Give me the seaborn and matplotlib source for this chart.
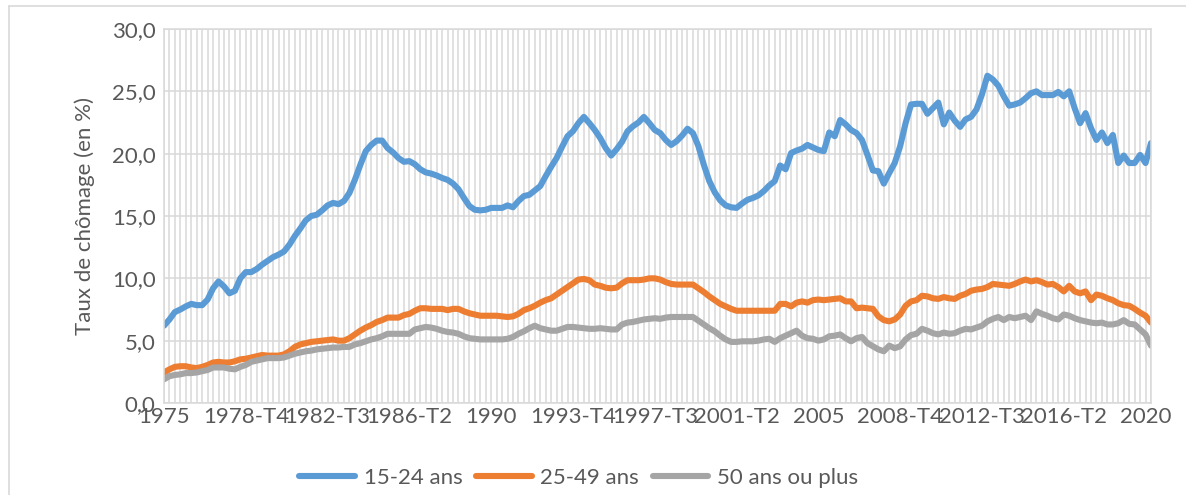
import numpy as np
import pandas as pd
import matplotlib
matplotlib.use("Agg")
import matplotlib.pyplot as plt
from matplotlib.lines import Line2D
from matplotlib.ticker import FuncFormatter
import seaborn as sns

# quarterly series, 1975-T1 .. 2020-T2
jeunes_15_24 = [
    6.2, 6.7, 7.3, 7.5, 7.75, 7.95, 7.85, 7.85, 8.3, 9.2,
    9.75, 9.35, 8.8, 9.0, 10.0, 10.5, 10.5, 10.75, 11.1, 11.4,
    11.7, 11.9, 12.15, 12.7, 13.4, 14.0, 14.65, 15.0, 15.1, 15.45,
    15.85, 16.05, 15.95, 16.2, 16.85, 17.9, 19.1, 20.2, 20.7, 21.05,
    21.05, 20.45, 20.1, 19.65, 19.35, 19.4, 19.15, 18.75, 18.5, 18.4,
    18.25, 18.05, 17.9, 17.6, 17.15, 16.45, 15.8, 15.5, 15.45, 15.5,
    15.65, 15.65, 15.65, 15.85, 15.7, 16.2, 16.6, 16.7, 17.05, 17.4,
    18.2, 18.95, 19.65, 20.55, 21.4, 21.8, 22.45, 22.95, 22.45, 21.9,
    21.25, 20.45, 19.85, 20.35, 20.95, 21.8, 22.2, 22.5, 22.95, 22.45,
    21.9, 21.65, 21.1, 20.7, 21.0, 21.45, 22.0, 21.65, 20.6, 19.1,
    17.8, 16.9, 16.25, 15.85, 15.7, 15.65, 16.0, 16.3, 16.45, 16.65,
    17.0, 17.45, 17.8, 19.05, 18.75, 20.05, 20.25, 20.4, 20.7, 20.5,
    20.3, 20.2, 21.7, 21.4, 22.7, 22.35, 21.9, 21.65, 21.1, 19.9,
    18.65, 18.6, 17.6, 18.45, 19.25, 20.6, 22.45, 23.95, 24.0, 24.0,
    23.2, 23.65, 24.1, 22.35, 23.3, 22.65, 22.15, 22.75, 22.95, 23.55,
    24.75, 26.25, 25.95, 25.45, 24.6, 23.85, 23.95, 24.1, 24.45, 24.85,
    25.0, 24.7, 24.7, 24.7, 24.95, 24.6, 25.0, 23.65, 22.45, 23.25,
    22.05, 21.1, 21.7, 20.85, 21.5, 19.25, 19.85, 19.25, 19.25, 19.9,
    19.25, 20.85,
]
adultes_25_49 = [
    2.45, 2.7, 2.9, 2.95, 2.95, 2.85, 2.8, 2.9, 3.05, 3.25,
    3.3, 3.25, 3.25, 3.35, 3.5, 3.55, 3.65, 3.75, 3.85, 3.8,
    3.8, 3.8, 3.9, 4.15, 4.5, 4.7, 4.8, 4.9, 4.95, 5.0,
    5.05, 5.1, 5.0, 5.0, 5.2, 5.5, 5.8, 6.05, 6.25, 6.5,
    6.65, 6.85, 6.85, 6.85, 7.05, 7.15, 7.4, 7.6, 7.6, 7.55,
    7.55, 7.55, 7.45, 7.55, 7.55, 7.35, 7.2, 7.1, 7.0, 7.0,
    7.0, 7.0, 6.95, 6.9, 6.95, 7.15, 7.45, 7.6, 7.8, 8.05,
    8.25, 8.4, 8.7, 9.0, 9.3, 9.6, 9.9, 9.95, 9.85, 9.5,
    9.4, 9.25, 9.2, 9.25, 9.6, 9.85, 9.85, 9.85, 9.9, 10.0,
    10.0, 9.9, 9.7, 9.55, 9.5, 9.5, 9.5, 9.5, 9.2, 8.9,
    8.55, 8.25, 7.95, 7.75, 7.55, 7.4, 7.4, 7.4, 7.4, 7.4,
    7.4, 7.4, 7.4, 7.95, 7.95, 7.75, 8.05, 8.15, 8.05, 8.25,
    8.3, 8.25, 8.3, 8.35, 8.4, 8.15, 8.15, 7.6, 7.65, 7.6,
    7.55, 6.95, 6.65, 6.55, 6.7, 7.1, 7.8, 8.15, 8.25, 8.6,
    8.55, 8.4, 8.35, 8.5, 8.4, 8.35, 8.6, 8.75, 9.0, 9.1,
    9.15, 9.3, 9.55, 9.5, 9.45, 9.4, 9.55, 9.75, 9.9, 9.75,
    9.85, 9.7, 9.5, 9.55, 9.3, 8.95, 9.4, 8.95, 8.8, 8.95,
    8.25, 8.7, 8.6, 8.4, 8.25, 8.0, 7.85, 7.8, 7.55, 7.25,
    7.0, 6.45,
]
seniors_50_plus = [
    1.9, 2.15, 2.25, 2.3, 2.4, 2.4, 2.45, 2.55, 2.65, 2.85,
    2.85, 2.85, 2.75, 2.7, 2.9, 3.05, 3.3, 3.4, 3.5, 3.6,
    3.6, 3.6, 3.65, 3.8, 3.95, 4.05, 4.15, 4.2, 4.3, 4.35,
    4.4, 4.45, 4.45, 4.5, 4.5, 4.7, 4.8, 4.95, 5.1, 5.2,
    5.35, 5.55, 5.55, 5.55, 5.55, 5.55, 5.9, 6.0, 6.1, 6.05,
    5.95, 5.8, 5.7, 5.65, 5.55, 5.35, 5.2, 5.15, 5.1, 5.1,
    5.1, 5.1, 5.1, 5.15, 5.3, 5.55, 5.75, 6.0, 6.2, 6.0,
    5.9, 5.8, 5.8, 5.95, 6.1, 6.1, 6.05, 6.0, 5.95, 5.95,
    6.0, 5.95, 5.9, 5.9, 6.3, 6.45, 6.5, 6.6, 6.7, 6.75,
    6.8, 6.75, 6.85, 6.9, 6.9, 6.9, 6.9, 6.9, 6.6, 6.3,
    6.0, 5.75, 5.4, 5.1, 4.9, 4.9, 4.95, 4.95, 4.95, 5.0,
    5.1, 5.15, 4.9, 5.2, 5.4, 5.6, 5.8, 5.4, 5.2, 5.15,
    5.0, 5.1, 5.35, 5.4, 5.5, 5.2, 4.95, 5.2, 5.3, 4.8,
    4.55, 4.3, 4.15, 4.6, 4.4, 4.55, 5.1, 5.45, 5.55, 5.95,
    5.8, 5.6, 5.5, 5.65, 5.55, 5.6, 5.8, 5.95, 5.9, 6.05,
    6.2, 6.55, 6.75, 6.9, 6.65, 6.9, 6.8, 6.9, 7.0, 6.65,
    7.35, 7.15, 7.0, 6.8, 6.7, 7.1, 7.0, 6.8, 6.65, 6.55,
    6.45, 6.4, 6.45, 6.3, 6.3, 6.4, 6.65, 6.35, 6.3, 5.9,
    5.5, 4.6,
]

series_names = ["15-24 ans", "25-49 ans", "50 ans ou plus"]
series_colors = ["#5B9BD5", "#ED7D31", "#A5A5A5"]

trimestres = [f"{1975 + k // 4}-T{k % 4 + 1}" for k in range(len(jeunes_15_24))]
tick_labels = ["1975", "1978-T4", "1982-T3", "1986-T2", "1990", "1993-T4", "1997-T3",
               "2001-T2", "2005", "2008-T4", "2012-T3", "2016-T2", "2020"]
tick_step = 15

frames = []
for name, vals in zip(series_names, [jeunes_15_24, adultes_25_49, seniors_50_plus]):
    frames.append(pd.DataFrame({"pos": np.arange(len(vals)), "trimestre": trimestres,
                                "taux": vals, "groupe": name}))
df = pd.concat(frames, ignore_index=True)

sns.set_style("white")
plt.rcParams["font.family"] = ["Lato", "DejaVu Sans"]
txt = "#595959"
grid_c = "#D9D9D9"
fs = 16

fig = plt.figure(figsize=(11.86, 4.95), dpi=100)
ax = fig.add_axes([164 / 1186, 1 - 403 / 495, (1151 - 164) / 1186, (403 - 29) / 495])

sns.lineplot(data=df, x="pos", y="taux", hue="groupe", hue_order=series_names,
             palette=series_colors, linewidth=4.4, legend=False, ax=ax,
             solid_joinstyle="round", solid_capstyle="round")

n = len(trimestres)
ax.set_xlim(0, n - 1)
ax.set_ylim(0, 30)
ax.set_xticks(np.arange(n))
labels = [""] * n
for k, lab in enumerate(tick_labels):
    labels[k * tick_step] = lab
ax.set_xticklabels(labels)
ax.set_yticks(np.arange(0, 31, 5))
ax.yaxis.set_major_formatter(FuncFormatter(lambda v, p: f"{v:.1f}".replace(".", ",")))
ax.tick_params(axis="both", length=0, labelsize=fs, labelcolor=txt)
ax.tick_params(axis="x", pad=3)
ax.tick_params(axis="y", pad=6)
ax.grid(True, axis="both", color=grid_c, linewidth=1.1)
ax.set_axisbelow(True)
for s in ax.spines.values():
    s.set_color(grid_c)
    s.set_linewidth(1.1)
ax.set_xlabel("")
ax.set_ylabel("Taux de chômage (en %)", fontsize=fs, color=txt, labelpad=12)

handles = [Line2D([0], [0], color=c, linewidth=4.4) for c in series_colors]
fig.legend(handles, series_names, loc="center", bbox_to_anchor=(0.488, 0.034),
           ncol=3, frameon=False, fontsize=fs, labelcolor=txt,
           handlelength=2.5, handletextpad=0.4, columnspacing=0.6)

# chart-area border (top and left visible)
fig.add_artist(Line2D([9 / 1186, 9 / 1186], [0, 1 - 6 / 495], color=grid_c, linewidth=1.2,
                      transform=fig.transFigure))
fig.add_artist(Line2D([9 / 1186, 1], [1 - 6 / 495, 1 - 6 / 495], color=grid_c, linewidth=1.2,
                      transform=fig.transFigure))

fig.savefig("out.png", dpi=100)
